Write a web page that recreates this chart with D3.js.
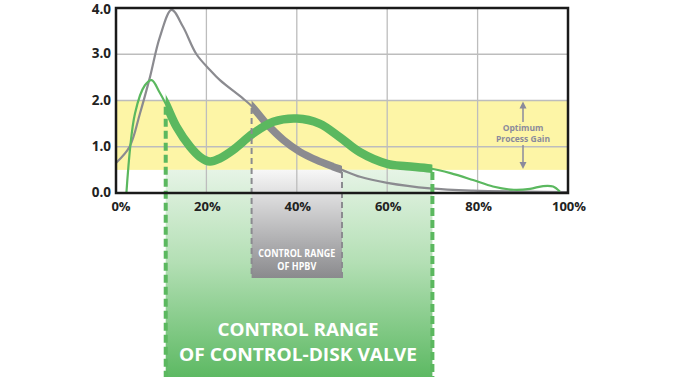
<!DOCTYPE html>
<html><head><meta charset="utf-8">
<script src="https://cdn.jsdelivr.net/npm/d3@7"></script>
<style>
html,body{margin:0;padding:0;background:#fff;}
text{font-family:"Open Sans","DejaVu Sans",sans-serif;font-weight:700;}
</style></head>
<body><svg id="chart" width="680" height="383"></svg>
<script>
// ---- data ----
const grayX = [0, 3, 5.3, 7.5, 9.7, 12.3, 14.8, 17.8, 20.8, 23, 28, 30, 33.3, 37, 40.7, 44.4, 48, 50, 54, 60, 69.5, 79, 90, 100];
const grayY = [0.65, 1.0, 1.72, 2.5, 3.37, 3.96, 3.6, 3.0, 2.66, 2.44, 2.05, 1.88, 1.5, 1.15, 0.89, 0.71, 0.57, 0.5, 0.35, 0.22, 0.1, 0.05, 0.03, 0.02];
const greenX = [2.3, 4.2, 6.4, 7.9, 9.5, 11, 13.4, 16.4, 18.6, 20.8, 23, 25.9, 30.4, 34.8, 40, 45, 49.6, 54, 60, 64.3, 69.5, 74, 79, 83.4, 88, 91.6, 94.5, 96.7, 98.2];
const greenY = [0, 1.72, 2.33, 2.44, 2.2, 1.93, 1.43, 1.0, 0.78, 0.68, 0.75, 0.93, 1.29, 1.54, 1.61, 1.5, 1.2, 0.88, 0.63, 0.58, 0.53, 0.43, 0.28, 0.14, 0.07, 0.09, 0.15, 0.14, 0.03];
const xTicks = [0, 20, 40, 60, 80, 100];
const yTicks = [0, 1, 2, 3, 4];
const bandRange = [0.5, 2.0];            // optimum process gain
const diskRange = [11, 70];              // control-disk valve control range (%)
const hpbvRange = [30, 50];              // HPBV control range (%)
const diskLabel = ["CONTROL RANGE", "OF CONTROL-DISK VALVE"];
const hpbvLabel = ["CONTROL RANGE", "OF HPBV"];
const gainLabel = ["Optimum", "Process Gain"];

// ---- setup ----
const svg = d3.select("#chart");
const x = d3.scaleLinear().domain([0, 100]).range([116, 568]);
const y = d3.scaleLinear().domain([0, 4]).range([193, 8]);
const GREEN = "#5bb85f", GRAY = "#8b8b90";

const defs = svg.append("defs");
const gg = defs.append("linearGradient").attr("id", "gGreen").attr("x1", 0).attr("x2", 0).attr("y1", 0).attr("y2", 1);
gg.append("stop").attr("offset", "0%").attr("stop-color", "#e6f4e6");
gg.append("stop").attr("offset", "45%").attr("stop-color", "#b3dfb4");
gg.append("stop").attr("offset", "100%").attr("stop-color", "#5db963");
const gy = defs.append("linearGradient").attr("id", "gGray").attr("x1", 0).attr("x2", 0).attr("y1", 0).attr("y2", 1);
gy.append("stop").attr("offset", "0%").attr("stop-color", "#f7f7f7");
gy.append("stop").attr("offset", "100%").attr("stop-color", "#8a8a8d");

const diskBottom = 377, hpbvBottom = 278;

// yellow band
svg.append("rect").attr("x", x(0)).attr("width", x(100) - x(0))
  .attr("y", y(bandRange[1])).attr("height", y(bandRange[0]) - y(bandRange[1]))
  .attr("fill", "#fdf5a6");

// boxes
svg.append("rect").attr("x", x(diskRange[0])).attr("width", x(diskRange[1]) - x(diskRange[0]))
  .attr("y", y(bandRange[0])).attr("height", diskBottom - y(bandRange[0]))
  .attr("fill", "url(#gGreen)");
svg.append("rect").attr("x", x(hpbvRange[0])).attr("width", x(hpbvRange[1]) - x(hpbvRange[0]))
  .attr("y", y(bandRange[0])).attr("height", hpbvBottom - y(bandRange[0]))
  .attr("fill", "url(#gGray)");

// grid
svg.append("g").selectAll("line").data(xTicks.filter(d => d > 0 && d < 100)).join("line")
  .attr("x1", d => x(d)).attr("x2", d => x(d)).attr("y1", y(4)).attr("y2", y(0))
  .attr("stroke", "#bdbdbd").attr("stroke-width", 1.3);
svg.append("g").selectAll("line").data(yTicks.filter(d => d > 0 && d < 4)).join("line")
  .attr("x1", x(0)).attr("x2", x(100)).attr("y1", d => y(d)).attr("y2", d => y(d))
  .attr("stroke", "#bdbdbd").attr("stroke-width", 1.3);

// curves
const line = d3.line().x(d => x(d[0])).y(d => y(d[1])).curve(d3.curveCatmullRom.alpha(0.5));
const grayPts = grayX.map((v, i) => [v, grayY[i]]);
const greenPts = greenX.map((v, i) => [v, greenY[i]]);

defs.append("clipPath").attr("id", "clipDisk").append("rect")
  .attr("x", x(diskRange[0])).attr("width", x(diskRange[1]) - x(diskRange[0])).attr("y", 0).attr("height", 383);
defs.append("clipPath").attr("id", "clipHpbv").append("rect")
  .attr("x", x(hpbvRange[0])).attr("width", x(hpbvRange[1]) - x(hpbvRange[0])).attr("y", 0).attr("height", 383);
defs.append("clipPath").attr("id", "clipPlot").append("rect")
  .attr("x", x(0)).attr("width", x(100) - x(0)).attr("y", y(4)).attr("height", y(0) - y(4));

const plot = svg.append("g").attr("clip-path", "url(#clipPlot)");
plot.append("path").attr("d", line(grayPts)).attr("fill", "none").attr("stroke", GRAY).attr("stroke-width", 2.2);
plot.append("path").attr("d", line(greenPts)).attr("fill", "none").attr("stroke", GREEN).attr("stroke-width", 2.2);
plot.append("g").attr("clip-path", "url(#clipHpbv)").append("path").attr("d", line(grayPts))
  .attr("fill", "none").attr("stroke", GRAY).attr("stroke-width", 7.5);
plot.append("g").attr("clip-path", "url(#clipDisk)").append("path").attr("d", line(greenPts))
  .attr("fill", "none").attr("stroke", GREEN).attr("stroke-width", 8.5);

// dashed range lines
function valAt(pts, xv) {
  for (let i = 1; i < pts.length; i++) {
    if (pts[i][0] >= xv) {
      const t = (xv - pts[i-1][0]) / (pts[i][0] - pts[i-1][0]);
      return pts[i-1][1] + t * (pts[i][1] - pts[i-1][1]);
    }
  }
  return pts[pts.length-1][1];
}
svg.append("g").selectAll("line").data(hpbvRange).join("line")
  .attr("x1", d => x(d)).attr("x2", d => x(d))
  .attr("y1", d => y(Math.min(2, valAt(grayPts, d))) + 2).attr("y2", hpbvBottom)
  .attr("stroke", GRAY).attr("stroke-width", 2).attr("stroke-dasharray", "6,4");
svg.append("g").selectAll("line").data(diskRange).join("line")
  .attr("x1", d => x(d)).attr("x2", d => x(d))
  .attr("y1", d => y(valAt(greenPts, d)) + 3).attr("y2", diskBottom)
  .attr("stroke", GREEN).attr("stroke-width", 4).attr("stroke-dasharray", "8,4");

// frame
svg.append("rect").attr("x", x(0)).attr("y", y(4)).attr("width", x(100) - x(0)).attr("height", y(0) - y(4))
  .attr("fill", "none").attr("stroke", "#1a1a1a").attr("stroke-width", 2.5);

// axes labels
svg.append("g").selectAll("text").data(yTicks).join("text")
  .attr("x", 111).attr("y", d => Math.max(y(d) + 4, 14)).attr("text-anchor", "end")
  .attr("font-size", 13.5).attr("fill", "#222").text(d => d.toFixed(1));
svg.append("g").selectAll("text").data(xTicks).join("text")
  .attr("x", d => x(d) + (d === 0 ? 5 : 1)).attr("y", 211).attr("text-anchor", "middle")
  .attr("font-size", 13).attr("fill", "#222").text(d => d + "%");

// optimum process gain annotation
const ax = 523, ac = "#8a8a9c";
svg.append("line").attr("x1", ax).attr("x2", ax).attr("y1", y(bandRange[1]) + 4).attr("y2", 122)
  .attr("stroke", ac).attr("stroke-width", 1.5);
svg.append("line").attr("x1", ax).attr("x2", ax).attr("y1", 145).attr("y2", y(bandRange[0]) - 4)
  .attr("stroke", ac).attr("stroke-width", 1.5);
svg.append("path").attr("d", `M${ax},${y(bandRange[1]) + 1} l-3.5,7 l7,0 z`).attr("fill", ac);
svg.append("path").attr("d", `M${ax},${y(bandRange[0]) - 1} l-3.5,-7 l7,0 z`).attr("fill", ac);
svg.append("g").selectAll("text").data(gainLabel).join("text")
  .attr("x", ax).attr("y", (d, i) => 131 + i * 10.5).attr("text-anchor", "middle")
  .attr("font-size", 8.5).attr("fill", ac).text(d => d);

// box labels
svg.append("g").selectAll("text").data(hpbvLabel).join("text")
  .attr("x", x((hpbvRange[0] + hpbvRange[1]) / 2)).attr("y", (d, i) => 257 + i * 13)
  .attr("text-anchor", "middle").attr("font-size", 10).attr("fill", "#fff")
  .attr("textLength", (d, i) => i === 0 ? 77 : 39).attr("lengthAdjust", "spacingAndGlyphs")
  .text(d => d);
svg.append("g").selectAll("text").data(diskLabel).join("text")
  .attr("x", 298).attr("y", (d, i) => 336 + i * 24.5)
  .attr("text-anchor", "middle").attr("font-size", 18).attr("fill", "#fff")
  .attr("textLength", (d, i) => i === 0 ? 161 : 238).attr("lengthAdjust", "spacingAndGlyphs")
  .text(d => d);
</script></body></html>
